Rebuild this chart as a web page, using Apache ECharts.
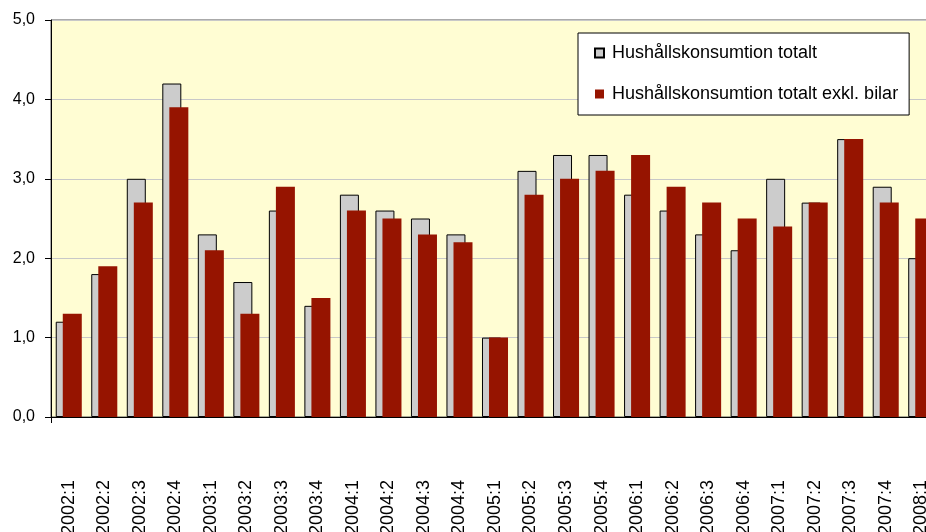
<!DOCTYPE html>
<html>
<head>
<meta charset="utf-8">
<script src="https://cdn.jsdelivr.net/npm/echarts@6/dist/echarts.min.js"></script>
<style>
  html,body{margin:0;padding:0;background:#fff;}
  #main{width:926px;height:532px;}
</style>
</head>
<body>
<div id="main"></div>
<script>
// kvartal
var kvartal=['2002:1','2002:2','2002:3','2002:4','2003:1','2003:2','2003:3','2003:4',
  '2004:1','2004:2','2004:3','2004:4','2005:1','2005:2','2005:3','2005:4',
  '2006:1','2006:2','2006:3','2006:4','2007:1','2007:2','2007:3','2007:4','2008:1'];
// Hushållskonsumtion totalt
var totalt=[1.2,1.8,3.0,4.2,2.3,1.7,2.6,1.4,2.8,2.6,2.5,2.3,1.0,3.1,3.3,3.3,2.8,2.6,2.3,2.1,3.0,2.7,3.5,2.9,2.0];
// Hushållskonsumtion totalt exkl. bilar
var exklBilar=[1.3,1.9,2.7,3.9,2.1,1.3,2.9,1.5,2.6,2.5,2.3,2.2,1.0,2.8,3.0,3.1,3.3,2.9,2.7,2.5,2.4,2.7,3.5,2.7,2.5];

var namn1='Hushållskonsumtion totalt';
var namn2='Hushållskonsumtion totalt exkl. bilar';
var font='"Liberation Sans", Arial, sans-serif';

var app=echarts.init(document.getElementById('main'));
var option={
  animation:false,
  backgroundColor:'#ffffff',
  textStyle:{fontFamily:font},
  grid:{
    left:51,top:20,bottom:115,width:888,
    outerBoundsMode:'none',
    containLabel:false,
    show:true,
    backgroundColor:'#fffdd3',
    borderColor:'#555555',
    borderWidth:1
  },
  legend:{
    orient:'vertical',
    left:578,top:33,
    padding:[11,11,12,16],
    itemGap:23,
    itemWidth:9,itemHeight:9,
    icon:'rect',
    backgroundColor:'#ffffff',
    borderColor:'#000000',
    borderWidth:1,
    textStyle:{color:'#000',fontSize:18,fontFamily:font,lineHeight:18,padding:[0,0,0,3]},
    data:[namn1,namn2]
  },
  xAxis:{
    type:'category',
    data:kvartal,
    axisLine:{lineStyle:{color:'#000',width:1}},
    axisTick:{show:true,length:6,lineStyle:{color:'#000'},
      interval:function(i){return i===0;}},
    axisLabel:{rotate:90,margin:63,color:'#000',fontSize:18,fontFamily:font,interval:0}
  },
  yAxis:{
    type:'value',
    min:0,max:5,interval:1,
    axisLine:{show:true,lineStyle:{color:'#000',width:1}},
    axisTick:{show:true,length:6,lineStyle:{color:'#000'}},
    axisLabel:{color:'#000',fontSize:16,fontFamily:font,margin:16,
      formatter:function(v){return v.toFixed(1).replace('.',',');}},
    splitLine:{show:true,lineStyle:{color:'#c8c8c8',width:1}}
  },
  series:[
    {
      name:namn1,
      type:'bar',
      data:totalt,
      barWidth:19,
      barGap:'-63%',
      itemStyle:{color:'#cccccc',borderColor:'#000000',borderWidth:1}
    },
    {
      name:namn2,
      type:'bar',
      data:exklBilar,
      barWidth:19,
      itemStyle:{color:'#961400'}
    }
  ]
};
app.setOption(option);
</script>
</body>
</html>
